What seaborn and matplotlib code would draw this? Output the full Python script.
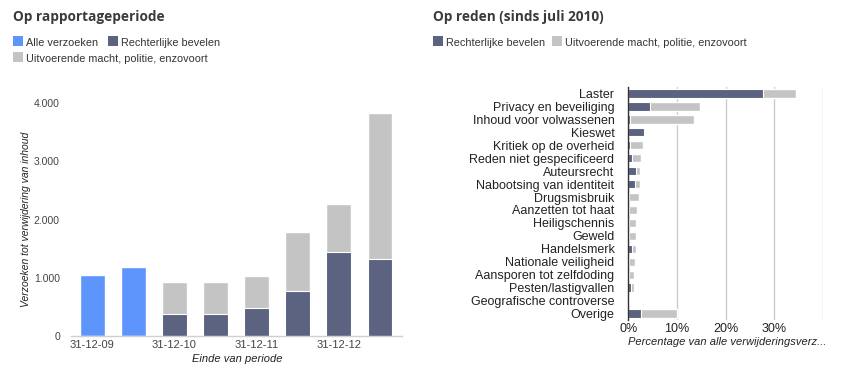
import numpy as np
import pandas as pd
import matplotlib
matplotlib.use("Agg")
import matplotlib.pyplot as plt
from matplotlib.patches import Rectangle
from matplotlib.ticker import FuncFormatter
import seaborn as sns

# --- data ---
periods = ["31-12-09", "30-06-10", "31-12-10", "30-06-11", "31-12-11", "30-06-12", "31-12-12", "30-06-13"]
period_labels = ["31-12-09", "", "31-12-10", "", "31-12-11", "", "31-12-12", ""]
total_requests = [1050, 1190, 930, 930, 1030, 1790, 2270, 3835]
court_orders = [np.nan, np.nan, 385, 385, 475, 780, 1450, 1330]

reasons = ["Laster", "Privacy en beveiliging", "Inhoud voor volwassenen", "Kieswet",
           "Kritiek op de overheid", "Reden niet gespecificeerd", "Auteursrecht",
           "Nabootsing van identiteit", "Drugsmisbruik", "Aanzetten tot haat",
           "Heiligschennis", "Geweld", "Handelsmerk", "Nationale veiligheid",
           "Aansporen tot zelfdoding", "Pesten/lastigvallen", "Geografische controverse", "Overige"]
reason_total = [34.5, 14.8, 13.5, 3.4, 3.0, 2.6, 2.4, 2.4, 2.2, 1.8, 1.6, 1.6, 1.65, 1.4, 1.2, 1.1, 0.05, 10.1]
reason_court = [27.8, 4.5, 0.3, 3.2, 0.3, 0.75, 1.65, 1.45, 0.1, 0.05, 0.05, 0.05, 0.75, 0.05, 0.05, 0.55, 0.0, 2.6]

BLUE = "#5e95fc"
DARK = "#5b6380"
GRAY = "#c4c4c4"
TXT = "#444444"

sns.set_theme(style="white")
plt.rcParams["font.family"] = ["Liberation Sans", "DejaVu Sans"]

W, H = 846, 374
fig = plt.figure(figsize=(W / 100, H / 100), dpi=100)

def fx(px):
    return px / W

def fy(py):
    return 1 - py / H

# --- left: per reporting period ---
ax1 = fig.add_axes([fx(71), fy(336), fx(402 - 71), fy(103) - fy(336)])
df1 = pd.DataFrame({"period": periods, "total": total_requests, "court": court_orders})
bar_colors = [BLUE if np.isnan(c) else GRAY for c in court_orders]
sns.barplot(data=df1, x="period", y="total", hue="period", palette=bar_colors,
            legend=False, width=0.6, saturation=1, ax=ax1)
sns.barplot(data=df1, x="period", y="court", color=DARK, width=0.6, saturation=1,
            edgecolor="white", linewidth=0.8, ax=ax1)
ax1.set_xlim(-0.52, 7.54)
ax1.set_ylim(0, 4000)
ax1.set_yticks([0, 1000, 2000, 3000, 4000])
ax1.yaxis.set_major_formatter(FuncFormatter(lambda v, p: f"{v:,.0f}".replace(",", ".")))
ax1.set_xticks(range(len(periods)))
ax1.set_xticklabels(period_labels)
ax1.tick_params(axis="both", length=0, labelsize=8, colors=TXT)
ax1.tick_params(axis="y", labelsize=7.5, pad=8)
ax1.tick_params(axis="x", pad=3)
for s in ["top", "right", "left"]:
    ax1.spines[s].set_visible(False)
ax1.spines["bottom"].set_color("#d0d0d0")
ax1.spines["bottom"].set_linewidth(1)
ax1.set_xlabel("")
ax1.set_ylabel("")
fig.text(fx(237), fy(359), "Einde van periode", ha="center", va="center",
         fontsize=8, style="italic", color="#222222")
fig.text(fx(26), fy(219), "Verzoeken tot verwijdering van inhoud", ha="center", va="center",
         rotation=90, fontsize=7.5, style="italic", color="#222222")

# --- right: by reason ---
ax2 = fig.add_axes([fx(628.3), fy(320), fx(822.7 - 628.3), fy(87) - fy(320)])
df2 = pd.DataFrame({"reason": reasons, "total": reason_total, "court": reason_court})
sns.barplot(data=df2, y="reason", x="total", orient="h", color=GRAY, width=0.64,
            saturation=1, ax=ax2)
sns.barplot(data=df2, y="reason", x="court", orient="h", color=DARK, width=0.64,
            saturation=1, edgecolor="white", linewidth=0.8, ax=ax2)
ax2.set_xlim(0, 40)
ax2.set_ylim(len(reasons) - 0.5, -0.5)
ax2.set_xticks([0, 10, 20, 30, 40])
ax2.set_xticklabels(["0%", "10%", "20%", "30%", ""])
ax2.grid(axis="x", color="#cccccc", linewidth=1)
ax2.set_axisbelow(True)
for s in ["top", "right", "bottom"]:
    ax2.spines[s].set_visible(False)
ax2.spines["left"].set_color("#333333")
ax2.spines["left"].set_linewidth(1)
ax2.tick_params(axis="both", length=0, colors="#222222")
ax2.tick_params(axis="y", labelsize=9, pad=10)
ax2.tick_params(axis="x", labelsize=9, pad=2)
ax2.set_xlabel("")
ax2.set_ylabel("")
fig.text(fx(628), fy(342), "Percentage van alle verwijderingsverz...", ha="left", va="center",
         fontsize=8, style="italic", color="#222222")

# --- titles ---
title_kw = dict(fontsize=9.8, fontweight="bold", color="#3a3a3a",
                family=["Open Sans", "DejaVu Sans"], va="baseline", ha="left")
fig.text(fx(13), fy(21), "Op rapportageperiode", **title_kw)
fig.text(fx(433), fy(21), "Op reden (sinds juli 2010)", **title_kw)

# --- legends ---
def legend_item(x, y, color, label):
    fig.add_artist(Rectangle((fx(x), fy(y + 10)), fx(10), fy(y) - fy(y + 10),
                             transform=fig.transFigure, color=color, lw=0))
    fig.text(fx(x + 13), fy(y + 10), label, ha="left", va="baseline",
             fontsize=7.8, color="#333333")

legend_item(13, 36, BLUE, "Alle verzoeken")
legend_item(108, 36, DARK, "Rechterlijke bevelen")
legend_item(13, 52, GRAY, "Uitvoerende macht, politie, enzovoort")
legend_item(433, 36, DARK, "Rechterlijke bevelen")
legend_item(552, 36, GRAY, "Uitvoerende macht, politie, enzovoort")

fig.savefig("out.png", dpi=100)
